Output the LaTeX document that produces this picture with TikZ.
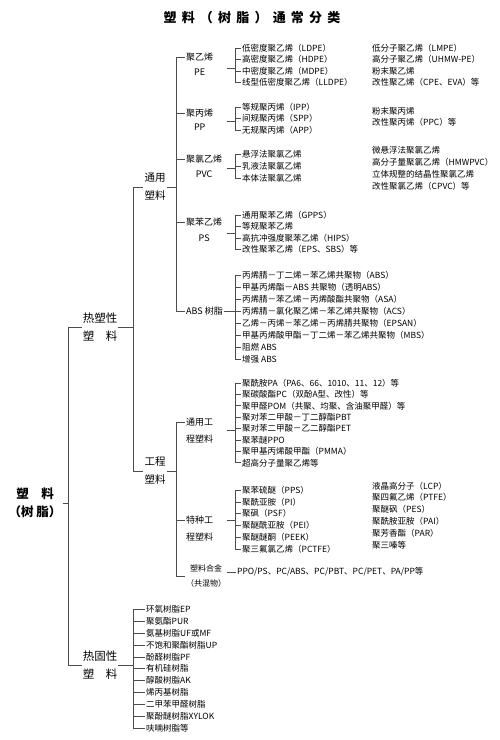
\documentclass[tikz,border=0pt]{standalone}
\usepackage{fontspec}
\setmainfont{Noto Sans CJK SC}
\usetikzlibrary{calc}

\begin{document}
\begin{tikzpicture}[
    x=1pt, y=-1pt,
    branch/.style={line width=0.8pt, black!70},
    heading/.style={font=\bfseries\fontsize{13}{15}\selectfont\addfontfeature{LetterSpace=40}},
    root/.style={align=center, inner sep=1pt, font=\bfseries\fontsize{12.5}{18}\selectfont},
    main/.style={align=center, inner sep=1pt, font=\fontsize{11.5}{18}\selectfont},
    group/.style={align=center, inner sep=1pt, font=\fontsize{10.5}{18}\selectfont},
    kind/.style={inner sep=1pt, font=\fontsize{9}{10}\selectfont},
    item/.style={anchor=west, inner sep=1pt, font=\fontsize{8.5}{10}\selectfont}
    ]
    \useasboundingbox (0,0) rectangle (500,740);

    % title
    \node[heading] (head) at (252,18) {塑料（树脂）通常分类};

    % root and its two branches
    \node[root] (root) at (35,503) {塑　料\\（树 脂）};
    \coordinate (sRoot) at (68,503);
    \node[main] (thp) at (100,327) {热塑性\\塑　料};
    \node[main] (ths) at (100,665) {热固性\\塑　料};
    \draw[branch] (root.east) -- (sRoot)
        (sRoot |- thp.west) -- (sRoot |- ths.west)
        (sRoot |- thp.west) -- (thp.west)
        (sRoot |- ths.west) -- (ths.west);

    % thermoplastics
    \coordinate (sThp) at (133,327);
    \node[group] (gen) at (155,187) {通用\\塑料};
    \node[group] (eng) at (155,471) {工程\\塑料};
    \draw[branch] (thp.east) -- (sThp)
        (sThp |- gen.west) -- (sThp |- eng.west)
        (sThp |- gen.west) -- (gen.west)
        (sThp |- eng.west) -- (eng.west);

    % general plastics
    \coordinate (sGen) at (176,187);
    \node[kind, anchor=west] (pe) at (185,57) {聚乙烯};
    \node[kind] (peB) at (pe.center |- 0,72) {PE};
    \node[kind, anchor=west] (pp) at (185,113) {聚丙烯};
    \node[kind] (ppB) at (pp.center |- 0,127) {PP};
    \node[kind, anchor=west] (pvc) at (185,159) {聚氯乙烯};
    \node[kind] (pvcB) at (pvc.center |- 0,174) {PVC};
    \node[kind, anchor=west] (ps) at (185,222) {聚苯乙烯};
    \node[kind] (psB) at (ps.center |- 0,238) {PS};
    \node[kind, anchor=west] (abs) at (185,311) {ABS 树脂};
    \draw[branch] (gen.east) -- (sGen)
        (sGen |- pe.west) -- (sGen |- abs.west)
        (sGen |- pe.west) -- (pe.west)
        (sGen |- pp.west) -- (pp.west)
        (sGen |- pvc.west) -- (pvc.west)
        (sGen |- ps.west) -- (ps.west)
        (sGen |- abs.west) -- (abs.west);

    % PE
    \node[item] (pe1) at (241,48) {低密度聚乙烯（LDPE）};
    \node[item] (pe2) at (241,59.5) {高密度聚乙烯（HDPE）};
    \node[item] (pe3) at (241,71) {中密度聚乙烯（MDPE）};
    \node[item] (pe4) at (241,82.5) {线型低密度聚乙烯（LLDPE）};
    \node[item] (peR1) at (371,48) {低分子聚乙烯（LMPE）};
    \node[item] (peR2) at (371,59.5) {高分子聚乙烯（UHMW-PE）};
    \node[item] (peR3) at (371,71) {粉末聚乙烯};
    \node[item] (peR4) at (371,82.5) {改性聚乙烯（CPE、EVA）等};
    \coordinate (bPE) at (235,68);
    \draw[branch] (bPE) -- ++(-8,0)
        (bPE |- pe1.west) -- (bPE |- pe4.west)
        (bPE |- pe1.west) -- (pe1.west)
        (bPE |- pe2.west) -- (pe2.west)
        (bPE |- pe3.west) -- (pe3.west)
        (bPE |- pe4.west) -- (pe4.west);

    % PP
    \node[item] (pp1) at (241,107) {等规聚丙烯（IPP）};
    \node[item] (pp2) at (241,118.5) {间规聚丙烯（SPP）};
    \node[item] (pp3) at (241,130) {无规聚丙烯（APP）};
    \node[item] (ppR1) at (371,111) {粉末聚丙烯};
    \node[item] (ppR2) at (371,122.5) {改性聚丙烯（PPC）等};
    \coordinate (bPP) at (235,121);
    \draw[branch] (bPP) -- ++(-8,0)
        (bPP |- pp1.west) -- (bPP |- pp3.west)
        (bPP |- pp1.west) -- (pp1.west)
        (bPP |- pp2.west) -- (pp2.west)
        (bPP |- pp3.west) -- (pp3.west);

    % PVC
    \node[item] (pvc1) at (241,154) {悬浮法聚氯乙烯};
    \node[item] (pvc2) at (241,166) {乳液法聚氯乙烯};
    \node[item] (pvc3) at (241,178) {本体法聚氯乙烯};
    \node[item] (pvcR1) at (371,150) {微悬浮法聚氯乙烯};
    \node[item] (pvcR2) at (371,162) {高分子量聚氯乙烯（HMWPVC）};
    \node[item] (pvcR3) at (371,174) {立体规整的结晶性聚氯乙烯};
    \node[item] (pvcR4) at (371,186) {改性聚氯乙烯（CPVC）等};
    \coordinate (bPVC) at (235,168);
    \draw[branch] (bPVC) -- ++(-8,0)
        (bPVC |- pvc1.west) -- (bPVC |- pvc3.west)
        (bPVC |- pvc1.west) -- (pvc1.west)
        (bPVC |- pvc2.west) -- (pvc2.west)
        (bPVC |- pvc3.west) -- (pvc3.west);

    % PS
    \node[item] (ps1) at (241,215) {通用聚苯乙烯（GPPS）};
    \node[item] (ps2) at (241,226.5) {等规聚苯乙烯};
    \node[item] (ps3) at (241,238) {高抗冲强度聚苯乙烯（HIPS）};
    \node[item] (ps4) at (241,249.5) {改性聚苯乙烯（EPS、SBS）等};
    \coordinate (bPS) at (235,233);
    \draw[branch] (bPS) -- ++(-8,0)
        (bPS |- ps1.west) -- (bPS |- ps4.west)
        (bPS |- ps1.west) -- (ps1.west)
        (bPS |- ps2.west) -- (ps2.west)
        (bPS |- ps3.west) -- (ps3.west)
        (bPS |- ps4.west) -- (ps4.west);

    % ABS
    \node[item] (abs1) at (241,275) {丙烯腈－丁二烯－苯乙烯共聚物（ABS）};
    \node[item] (abs2) at (241,287) {甲基丙烯酯－ABS 共聚物（透明ABS）};
    \node[item] (abs3) at (241,299) {丙烯腈－苯乙烯－丙烯酸酯共聚物（ASA）};
    \node[item] (abs4) at (241,311) {丙烯腈－氯化聚乙烯－苯乙烯共聚物（ACS）};
    \node[item] (abs5) at (241,323) {乙烯－丙烯－苯乙烯－丙烯腈共聚物（EPSAN）};
    \node[item] (abs6) at (241,335) {甲基丙烯酸甲酯－丁二烯－苯乙烯共聚物（MBS）};
    \node[item] (abs7) at (241,347) {阻燃 ABS};
    \node[item] (abs8) at (241,359) {增强 ABS};
    \coordinate (bABS) at (235,311);
    \draw[branch] (abs.east) -- (bABS)
        (bABS |- abs1.west) -- (bABS |- abs8.west)
        (bABS |- abs1.west) -- (abs1.west)
        (bABS |- abs2.west) -- (abs2.west)
        (bABS |- abs3.west) -- (abs3.west)
        (bABS |- abs4.west) -- (abs4.west)
        (bABS |- abs5.west) -- (abs5.west)
        (bABS |- abs6.west) -- (abs6.west)
        (bABS |- abs7.west) -- (abs7.west)
        (bABS |- abs8.west) -- (abs8.west);

    % engineering plastics
    \coordinate (sEng) at (176,471);
    \node[kind, anchor=west] (gep) at (185,422) {通用工};
    \node[kind] (gepB) at (gep.center |- 0,439) {程塑料};
    \node[kind, anchor=west] (spep) at (185,520) {特种工};
    \node[kind] (spepB) at (spep.center |- 0,537) {程塑料};
    \node[kind, anchor=west, align=center, font=\fontsize{8}{15}\selectfont] (alloy) at (185,576) {塑料合金\\（共混物）};
    \draw[branch] (eng.east) -- (sEng)
        (sEng |- gep.west) -- (sEng |- alloy.west)
        (sEng |- gep.west) -- (gep.west)
        (sEng |- spep.west) -- (spep.west)
        (sEng |- alloy.west) -- (alloy.west);

    % general engineering plastics
    \node[item] (ge1) at (241,383) {聚酰胺PA（PA6、66、1010、11、12）等};
    \node[item] (ge2) at (241,394.4) {聚碳酸酯PC（双酚A型、改性）等};
    \node[item] (ge3) at (241,405.8) {聚甲醛POM（共聚、均聚、含油聚甲醛）等};
    \node[item] (ge4) at (241,417.2) {聚对苯二甲酸－丁二醇酯PBT};
    \node[item] (ge5) at (241,428.6) {聚对苯二甲酸－乙二醇酯PET};
    \node[item] (ge6) at (241,440) {聚苯醚PPO};
    \node[item] (ge7) at (241,451.4) {聚甲基丙烯酸甲酯（PMMA）};
    \node[item] (ge8) at (241,462.8) {超高分子量聚乙烯等};
    \coordinate (bGe) at (235,430);
    \draw[branch] (bGe) -- ++(-8,0)
        (bGe |- ge1.west) -- (bGe |- ge8.west)
        (bGe |- ge1.west) -- (ge1.west)
        (bGe |- ge2.west) -- (ge2.west)
        (bGe |- ge3.west) -- (ge3.west)
        (bGe |- ge4.west) -- (ge4.west)
        (bGe |- ge5.west) -- (ge5.west)
        (bGe |- ge6.west) -- (ge6.west)
        (bGe |- ge7.west) -- (ge7.west)
        (bGe |- ge8.west) -- (ge8.west);

    % special engineering plastics
    \node[item] (sp1) at (241,490) {聚苯硫醚（PPS）};
    \node[item] (sp2) at (241,502) {聚酰亚胺（PI）};
    \node[item] (sp3) at (241,513.5) {聚砜（PSF）};
    \node[item] (sp4) at (241,525) {聚醚酰亚胺（PEI）};
    \node[item] (sp5) at (241,537) {聚醚醚酮（PEEK）};
    \node[item] (sp6) at (241,549) {聚三氟氯乙烯（PCTFE）};
    \node[item] (spR1) at (371,486) {液晶高分子（LCP）};
    \node[item] (spR2) at (371,497.5) {聚四氟乙烯（PTFE）};
    \node[item] (spR3) at (371,509) {聚醚砜（PES）};
    \node[item] (spR4) at (371,521) {聚酰胺亚胺（PAI）};
    \node[item] (spR5) at (371,533) {聚芳香酯（PAR）};
    \node[item] (spR6) at (371,545) {聚三嗪等};
    \coordinate (bSp) at (235,520);
    \draw[branch] (bSp) -- ++(-8,0)
        (bSp |- sp1.west) -- (bSp |- sp6.west)
        (bSp |- sp1.west) -- (sp1.west)
        (bSp |- sp2.west) -- (sp2.west)
        (bSp |- sp3.west) -- (sp3.west)
        (bSp |- sp4.west) -- (sp4.west)
        (bSp |- sp5.west) -- (sp5.west)
        (bSp |- sp6.west) -- (sp6.west);

    % alloys
    \node[item] (blend) at (236,572) {PPO/PS、PC/ABS、PC/PBT、PC/PET、PA/PP等};
    \draw[branch] (alloy.east |- blend.west) -- (blend.west);

    % thermosets
    \coordinate (sThs) at (133,665);
    \node[item] (ts1) at (145,609) {环氧树脂EP};
    \node[item] (ts2) at (145,621) {聚氨酯PUR};
    \node[item] (ts3) at (145,633) {氨基树脂UF或MF};
    \node[item] (ts4) at (145,645) {不饱和聚酯树脂UP};
    \node[item] (ts5) at (145,657) {酚醛树脂PF};
    \node[item] (ts6) at (145,668.5) {有机硅树脂};
    \node[item] (ts7) at (145,680) {醇酸树脂AK};
    \node[item] (ts8) at (145,692) {烯丙基树脂};
    \node[item] (ts9) at (145,704) {二甲苯甲醛树脂};
    \node[item] (ts10) at (145,716) {聚酚醚树脂XYLOK};
    \node[item] (ts11) at (145,728) {呋喃树脂等};
    \draw[branch] (ths.east) -- (sThs)
        (sThs |- ts1.west) -- (sThs |- ts11.west)
        (sThs |- ts1.west) -- (ts1.west)
        (sThs |- ts2.west) -- (ts2.west)
        (sThs |- ts3.west) -- (ts3.west)
        (sThs |- ts4.west) -- (ts4.west)
        (sThs |- ts5.west) -- (ts5.west)
        (sThs |- ts6.west) -- (ts6.west)
        (sThs |- ts7.west) -- (ts7.west)
        (sThs |- ts8.west) -- (ts8.west)
        (sThs |- ts9.west) -- (ts9.west)
        (sThs |- ts10.west) -- (ts10.west)
        (sThs |- ts11.west) -- (ts11.west);
\end{tikzpicture}
\end{document}
